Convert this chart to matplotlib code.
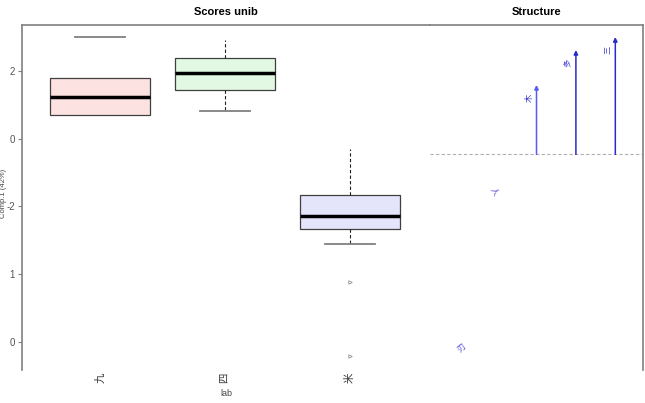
import numpy as np
import matplotlib
matplotlib.use("Agg")
import matplotlib.pyplot as plt

plt.rcParams['font.family'] = ['Liberation Sans', 'Noto Sans CJK SC', 'DejaVu Sans']

# box plot data
groups = ["九", "四", "米"]
medians = [1.24, 1.94, -2.29]
q1s = [0.71, 1.44, -2.65]
q3s = [1.79, 2.38, -1.65]
whis_lo = [0.71, 0.82, -3.12]
whis_hi = [3.0, 2.91, -0.32]
outliers = [[], [], [-4.24, -6.41]]
box_colors = ["#fde2e2", "#e2f8e2", "#e4e4fa"]

yticks = [2, 0, -2, -4, -6]
ytick_labels = ["2", "0", "-2", "1", "0"]

# structure panel data
arrow_x = [0.0, 0.37, 0.74]
arrow_y = [0.322, 0.484, 0.544]
arrow_colors = ["#5a5af0", "#2a2ac8", "#2a2ac8"]
arrow_labels = ["木", "多", "三"]
extra_labels = ["人", "刃"]
extra_x = [-0.40, -0.70]
extra_y = [-0.17, -0.90]
extra_rot = [-60, 40]

fig = plt.figure(figsize=(6.45, 4.03), dpi=100)
ax = fig.add_axes([22/645, 33/403, 408/645, 345/403])
ax2 = fig.add_axes([430/645, 33/403, 213/645, 345/403])

stats = []
for i in range(3):
    stats.append(dict(med=medians[i], q1=q1s[i], q3=q3s[i],
                      whislo=whis_lo[i], whishi=whis_hi[i], fliers=outliers[i]))

bp = ax.bxp(stats, positions=[1, 2, 3], widths=0.8, patch_artist=True,
            boxprops=dict(edgecolor="#404040", linewidth=0.9),
            medianprops=dict(color="black", linewidth=2.5),
            whiskerprops=dict(color="#202020", linestyle=(0, (3, 2)), linewidth=0.8),
            capprops=dict(color="#808080", linewidth=1.3),
            flierprops=dict(marker=">", markersize=2.5, markerfacecolor="none",
                            markeredgecolor="#909090", markeredgewidth=0.6))
for patch, c in zip(bp["boxes"], box_colors):
    patch.set_facecolor(c)
# whiskers / caps that are not visible in the picture
bp["whiskers"][0].set_visible(False)
bp["whiskers"][1].set_visible(False)
bp["caps"][0].set_visible(False)
bp["caps"][3].set_visible(False)
bp["caps"][5].set_visible(False)

ax.set_xlim(0.376, 3.64)
ax.set_ylim(-6.82, 3.35)
ax.set_yticks(yticks)
ax.set_yticklabels(ytick_labels, fontsize=7, color="#555555")
ax.tick_params(axis="y", length=3, width=0.8, color="#808080", pad=2)
ax.set_xticks([1, 2, 3])
ax.set_xticklabels(groups, rotation=90, fontsize=7.5, color="#333333")
ax.tick_params(axis="x", length=0, pad=2)
ax.set_xlabel("lab", fontsize=6.5, color="#444444", labelpad=4)
fig.text(4/645, 0.52, "Comp.1 (42%)", rotation=90, fontsize=5.5, color="#444444",
         ha="center", va="center")
for s in ["right", "bottom"]:
    ax.spines[s].set_visible(False)
for s in ["left", "top"]:
    ax.spines[s].set_color("#808080")
    ax.spines[s].set_linewidth(1.2)
ax.set_title("Scores unib", fontsize=8, fontweight="bold", pad=7)

ax2.set_xlim(-1, 1)
ax2.set_ylim(-1.0, 0.6)
ax2.axhline(0, color="#b0b0b0", linestyle=(0, (3, 2)), linewidth=0.8)
for x, y, c, lab in zip(arrow_x, arrow_y, arrow_colors, arrow_labels):
    ax2.annotate("", xy=(x, y), xytext=(x, 0),
                 arrowprops=dict(arrowstyle="-|>", color=c, lw=1.1, mutation_scale=6,
                                 shrinkA=0, shrinkB=0))
    ax2.text(x - 0.06, y - 0.06, lab, rotation=90, fontsize=6, color="#3a3ad0",
             ha="center", va="center")
for x, y, r, lab in zip(extra_x, extra_y, extra_rot, extra_labels):
    ax2.text(x, y, lab, rotation=r, fontsize=6, color="#4a4ad8", ha="center", va="center")
ax2.set_xticks([])
ax2.set_yticks([])
for s in ["left", "bottom"]:
    ax2.spines[s].set_visible(False)
for s in ["right", "top"]:
    ax2.spines[s].set_color("#808080")
    ax2.spines[s].set_linewidth(1.2)
ax2.set_title("Structure", fontsize=8, fontweight="bold", pad=7)

fig.savefig("out.png", dpi=100)
